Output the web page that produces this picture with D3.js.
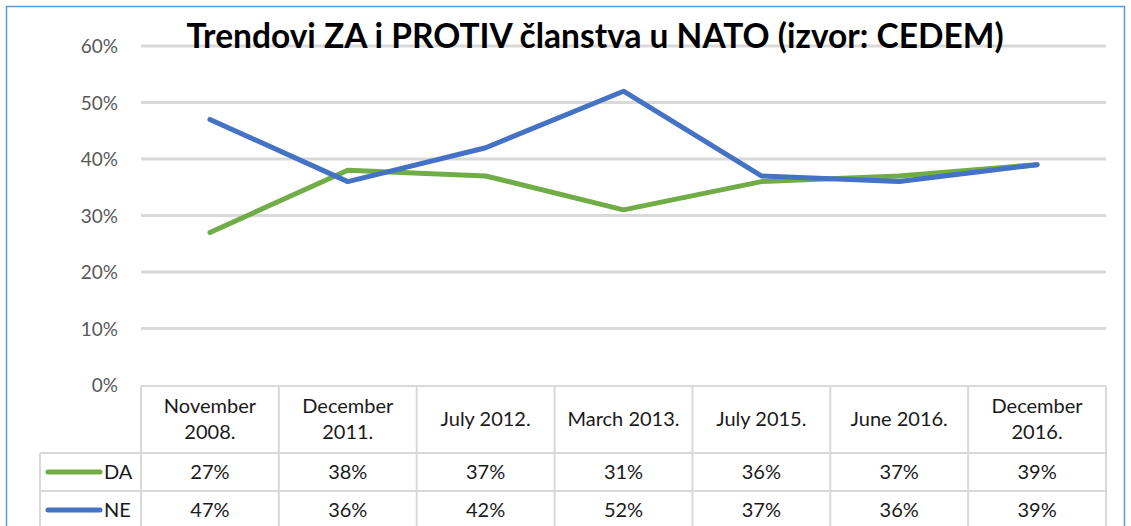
<!DOCTYPE html>
<html>
<head>
<meta charset="utf-8">
<script src="https://cdn.jsdelivr.net/npm/d3@7"></script>
<style>
  body { margin: 0; background: #fff; }
  svg { display: block; font-family: Lato, "Open Sans", sans-serif; }
</style>
</head>
<body>
<script>
const width = 1131;
const height = 526;

const categories = [['November', '2008.'], ['December', '2011.'], ['July 2012.'], ['March 2013.'], ['July 2015.'], ['June 2016.'], ['December', '2016.']];
const daValues = [27, 38, 37, 31, 36, 37, 39];
const neValues = [47, 36, 42, 52, 37, 36, 39];
const yTicks = [0, 10, 20, 30, 40, 50, 60];

const series = [
    { name: 'DA', values: daValues, color: '#70ad47' },
    { name: 'NE', values: neValues, color: '#4472c4' }
];

const plotLeft = 141, plotRight = 1106;
const x = d3.scaleBand()
    .domain(d3.range(categories.length))
    .range([plotLeft, plotRight]);
const y = d3.scaleLinear()
    .domain([0, 60])
    .range([385, 46]);

const svg = d3.select('body')
    .append('svg')
    .attr('width', width)
    .attr('height', height);

// outer chart border
svg.append('rect')
    .attr('x', 6.5).attr('y', 6.5)
    .attr('width', 1118).attr('height', 540)
    .attr('fill', 'none')
    .attr('stroke', '#5b9bd5')
    .attr('stroke-width', 1.5);

// gridlines
svg.append('g')
    .selectAll('line')
    .data(yTicks.slice(1))
    .enter().append('line')
    .attr('x1', plotLeft).attr('x2', plotRight)
    .attr('y1', d => y(d)).attr('y2', d => y(d))
    .style('stroke', '#d9d9d9')
    .style('stroke-width', 3);

// y tick labels
svg.append('g')
    .selectAll('text')
    .data(yTicks)
    .enter().append('text')
    .attr('x', 118)
    .attr('y', d => y(d) + 7)
    .attr('text-anchor', 'end')
    .style('font-size', '19px')
    .style('fill', '#595959')
    .text(d => d + '%');

// data table
const rowTops = [386, 453, 491, 529];
const tableLeft = 40;
const grid = svg.append('g').style('stroke', '#d9d9d9').style('stroke-width', 2);
grid.append('line').attr('x1', plotLeft).attr('x2', plotRight).attr('y1', rowTops[0]).attr('y2', rowTops[0]);
rowTops.slice(1).forEach(t => {
    grid.append('line').attr('x1', tableLeft).attr('x2', plotRight).attr('y1', t).attr('y2', t);
});
grid.append('line').attr('x1', tableLeft).attr('x2', tableLeft).attr('y1', rowTops[1]).attr('y2', height);
d3.range(categories.length + 1).forEach(i => {
    const xx = i < categories.length ? x(i) : plotRight;
    grid.append('line').attr('x1', xx).attr('x2', xx).attr('y1', rowTops[0]).attr('y2', height);
});

// header labels
const header = svg.append('g')
    .selectAll('text')
    .data(categories)
    .enter().append('text')
    .attr('text-anchor', 'middle')
    .style('font-size', '20px')
    .style('fill', '#1a1a1a');
header.each(function (lines, i) {
    const t = d3.select(this);
    const cx = x(i) + x.bandwidth() / 2;
    const start = lines.length === 1 ? 426 : 413;
    lines.forEach((l, k) => {
        t.append('tspan').attr('x', cx).attr('y', start + k * 26).text(l);
    });
});

// value rows + legend keys
series.forEach((s, r) => {
    const top = rowTops[r + 1];
    const mid = top + 19;
    svg.append('line')
        .attr('x1', 48).attr('x2', 100)
        .attr('y1', mid).attr('y2', mid)
        .style('stroke', s.color)
        .style('stroke-width', 5)
        .style('stroke-linecap', 'round');
    svg.append('text')
        .attr('x', 104).attr('y', mid + 7)
        .style('font-size', '20px')
        .style('fill', '#1a1a1a')
        .text(s.name);
    svg.append('g')
        .selectAll('text')
        .data(s.values)
        .enter().append('text')
        .attr('x', (d, i) => x(i) + x.bandwidth() / 2)
        .attr('y', mid + 7)
        .attr('text-anchor', 'middle')
        .style('font-size', '20px')
        .style('fill', '#1a1a1a')
        .text(d => d + '%');
});

// lines
const line = d3.line()
    .x((d, i) => x(i) + x.bandwidth() / 2)
    .y(d => y(d));

svg.append('g')
    .selectAll('path')
    .data(series)
    .enter().append('path')
    .attr('d', d => line(d.values))
    .style('fill', 'none')
    .style('stroke', d => d.color)
    .style('stroke-width', 5)
    .style('stroke-linejoin', 'round')
    .style('stroke-linecap', 'round');

// title
svg.append('text')
    .attr('x', 595)
    .attr('y', 48)
    .attr('text-anchor', 'middle')
    .style('font-size', '33.5px')
    .style('font-weight', 'bold')
    .style('fill', '#000')
    .text('Trendovi ZA i PROTIV članstva u NATO (izvor: CEDEM)');
</script>
</body>
</html>
